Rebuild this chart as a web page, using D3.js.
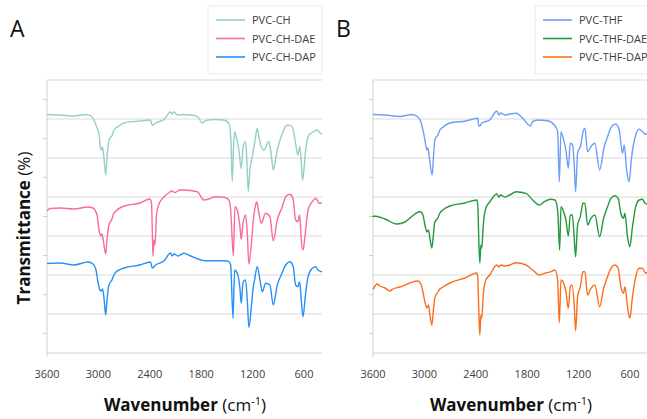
<!DOCTYPE html>
<html>
<head>
<meta charset="utf-8">
<script src="https://cdn.jsdelivr.net/npm/d3@7"></script>
<style>
  body { margin: 0; background: #fff; }
  svg { display: block; }
</style>
</head>
<body>
<div id="chart"></div>
<script>
// x ticks (wavenumber, cm-1)
const xTicks = [3600, 3000, 2400, 1800, 1200, 600];

// spectra, [wavenumber, transmittance (stacked, arbitrary units)]
const pvcCH = [[3600,238.5],[3448,238],[3285,237],[3145,238.5],[3087,237],[3052,233],[3016,225],[2993,219],[2975,205],[2964,203],[2952,206],[2935,195],[2915,178],[2900,195],[2877,213],[2838,218],[2824,222],[2798,225],[2760,227],[2700,230],[2514,232],[2392,233],[2371,227.5],[2331,230],[2235,233.5],[2157,241],[2138,239],[2118,241],[2071,238],[2001,238.5],[1923,238],[1838,236],[1788,230],[1748,232.5],[1639,233.5],[1535,233],[1476,229.5],[1453,213],[1438,171.5],[1424,203],[1410,221.5],[1389,215],[1360,203],[1333,184.5],[1310,206.5],[1282,211.5],[1267,193],[1251,161.5],[1232,183],[1204,196.5],[1177,209.5],[1146,224.5],[1130,218],[1106,208],[1068,203],[1010,211.5],[986,201],[959,183],[933,193],[912,203],[854,219.5],[796,228],[738,226.5],[718,220],[698,209.5],[671,198],[648,206.5],[630,188],[616,173],[601,183],[581,203],[543,218],[484,221.5],[446,223],[407,219.5],[390,219]];
const pvcCHDAE = [[3600,142],[3565,144.5],[3448,145],[3285,144],[3122,146],[3063,145],[3016,138],[2993,123],[2975,117],[2958,119],[2940,111],[2915,99],[2900,113],[2877,128],[2842,134],[2824,139],[2795,142],[2700,147],[2514,150],[2398,154],[2380,150],[2371,123],[2363,97],[2351,113],[2340,108],[2322,138],[2293,149],[2247,155],[2165,161],[2142,162],[2106,160.5],[2048,163],[2001,163],[1846,161.3],[1768,153],[1709,154],[1631,156.3],[1535,155.7],[1476,153],[1456,143],[1425,97],[1406,146.3],[1379,143],[1348,126.3],[1333,113.7],[1313,129],[1282,138],[1262,119.7],[1243,89],[1211,113],[1192,133],[1169,146.3],[1153,151.3],[1126,139.7],[1099,129.7],[1048,139.7],[998,136.3],[959,112.3],[912,133],[854,146.3],[814,156.3],[764,158.7],[729,154.7],[698,133],[671,131.3],[651,138],[632,113],[612,103],[585,119.7],[553,143],[503,151.3],[464,154.7],[446,153],[425,149.7],[390,150]];
const pvcCHDAP = [[3600,89.5],[3448,90],[3285,88],[3122,91],[3063,89],[3028,83],[3005,71],[2982,63],[2964,62],[2952,64],[2935,55],[2915,38],[2900,53],[2877,68],[2842,73],[2824,77],[2795,81],[2700,85],[2514,88],[2392,91],[2371,85],[2333,88],[2235,92],[2157,100],[2138,97],[2118,99],[2071,97],[2001,99.7],[1923,97],[1748,92.3],[1535,92.3],[1476,91.3],[1456,88],[1429,34.7],[1410,83],[1379,79.7],[1348,64.7],[1333,49.7],[1310,71.3],[1282,73],[1262,53],[1243,25.7],[1211,49.7],[1192,66.3],[1177,73],[1146,86.3],[1114,73],[1087,61.3],[1048,69.7],[998,68],[959,48],[912,68],[866,78],[814,88],[764,91.3],[726,86.3],[698,68],[671,66.3],[651,71.3],[632,53],[612,36.3],[585,56.3],[553,76.3],[503,84.7],[464,86.3],[437,83],[398,81.3],[390,81]];

const pvcTHF = [[3600,238.5],[3460,238],[3285,236.5],[3146,238.5],[3076,236],[3041,231],[3017,223],[2994,213],[2971,203],[2959,205],[2942,195],[2909,178],[2895,195],[2878,213],[2843,218],[2819,223],[2796,225],[2703,230],[2517,232],[2377,234.7],[2365,227],[2353,227],[2330,230],[2237,233],[2155,242],[2132,238],[2109,240],[2062,238],[2004,239],[1930,239.7],[1852,234.7],[1763,227],[1736,231.3],[1678,233],[1561,232.3],[1483,228],[1445,221.3],[1425,171.3],[1406,221.3],[1375,213],[1348,203],[1320,184.7],[1297,209.7],[1270,208],[1250,186.3],[1235,161.3],[1212,199.7],[1180,206.3],[1142,223],[1127,224.7],[1095,201.3],[1057,206.3],[1010,209.7],[955,183],[901,206.3],[862,216.3],[816,226.3],[766,229],[726,223],[688,199.7],[668,208],[637,181.3],[610,171.3],[583,194.7],[533,218],[493,223.7],[455,221.3],[428,219],[390,219]];
const pvcTHFDAE = [[3600,135.7],[3590,137],[3460,134],[3320,129],[3227,131],[3111,139],[3052,141.5],[3017,138],[2994,128],[2971,121],[2953,123],[2936,115],[2913,105],[2895,118],[2878,131],[2843,135],[2819,140],[2785,143],[2703,147],[2528,150],[2388,153],[2377,148],[2365,113],[2353,90],[2341,108],[2330,105],[2313,128],[2283,145],[2237,151],[2155,159],[2132,156],[2109,158],[2062,156],[2004,158],[1930,161.3],[1814,159.7],[1736,153],[1658,148],[1600,151.3],[1522,153.7],[1476,153],[1445,143],[1421,103],[1406,146.3],[1375,141.3],[1348,133],[1320,117],[1297,138],[1273,138],[1250,113],[1235,96.3],[1212,128],[1180,136.3],[1149,149.7],[1127,149.7],[1095,128],[1057,134.7],[1010,138],[955,116.3],[908,134.7],[862,146.3],[823,154.7],[777,157.3],[738,154.7],[707,139.7],[676,134.7],[660,139.7],[629,116.3],[602,106.3],[571,126.3],[533,146.3],[493,153],[455,153.7],[423,149.7],[390,149]];
const pvcTHFDAP = [[3600,63.7],[3577,67],[3553,69],[3518,67],[3460,65],[3402,62],[3367,64],[3285,66],[3169,70],[3076,72],[3041,69],[3017,61],[2994,51],[2971,45],[2953,48],[2936,38],[2913,28],[2895,43],[2878,55],[2843,61],[2819,64],[2785,66],[2703,70],[2528,75],[2388,80],[2377,75],[2365,43],[2353,18],[2341,38],[2330,35],[2313,58],[2283,73],[2237,78],[2155,88],[2132,86],[2109,88],[2062,87],[2004,88],[1930,90.3],[1814,88],[1736,83],[1658,78],[1600,79.7],[1522,81.3],[1476,83],[1445,73],[1425,30.3],[1406,73],[1375,69.7],[1348,61.3],[1320,44.7],[1297,66.3],[1279,68],[1250,46.3],[1235,22.3],[1212,56.3],[1180,66.3],[1149,81.3],[1127,81.3],[1095,58],[1057,64.7],[1010,68],[955,46.3],[908,64.7],[862,76.3],[823,84.7],[777,88],[738,84.7],[707,66.3],[676,59.7],[660,66.3],[629,46.3],[602,34.7],[571,56.3],[533,76.3],[493,84.7],[455,84.7],[423,80.3],[390,80]];

const seriesA = ["PVC-CH", "PVC-CH-DAE", "PVC-CH-DAP"];
const seriesB = ["PVC-THF", "PVC-THF-DAE", "PVC-THF-DAP"];
const colorsA = ["#94cfc9", "#fa6b95", "#2590f5"];
const colorsB = ["#6d9ef7", "#21993c", "#fb6e1c"];

const W = 647, H = 419;
const svg = d3.select("#chart").append("svg").attr("width", W).attr("height", H);
const font = "'Open Sans', sans-serif";

const y = d3.scaleLinear().domain([0, 273]).range([353, 80]);
const grid = d3.range(39, 274, 39);
const minor = d3.range(19.5, 273, 39);

function panel(letter, left, names, colors, data, legendX) {
  const x = d3.scaleLinear().domain([3600, 390]).range([left, left + 275]);
  const g = svg.append("g");

  // gridlines
  g.selectAll(".grid").data(grid).enter().append("line")
    .attr("x1", left).attr("x2", left + 275)
    .attr("y1", d => y(d)).attr("y2", d => y(d))
    .attr("stroke", "#d9d9d9").attr("stroke-width", 1);

  // axes lines
  g.append("line").attr("x1", left).attr("x2", left + 275).attr("y1", y(0)).attr("y2", y(0))
    .attr("stroke", "#d0d0d0");
  g.append("line").attr("x1", left).attr("x2", left).attr("y1", y(273)).attr("y2", y(0) + 4)
    .attr("stroke", "#d0d0d0");
  g.selectAll(".tk").data(minor).enter().append("line")
    .attr("x1", left - 4).attr("x2", left)
    .attr("y1", d => y(d)).attr("y2", d => y(d))
    .attr("stroke", "#d0d0d0");

  // x tick labels
  g.selectAll(".xl").data(xTicks).enter().append("text")
    .attr("x", d => x(d)).attr("y", 378)
    .attr("text-anchor", "middle")
    .style("font-family", font).style("font-size", "11px").attr("fill", "#404040")
    .text(d => d);

  const line = d3.line().x(d => x(d[0])).y(d => y(d[1])).curve(d3.curveMonotoneX);
  data.forEach((s, i) => {
    g.append("path").datum(s)
      .attr("d", line)
      .attr("fill", "none")
      .attr("stroke", colors[i])
      .attr("stroke-width", 1.4)
      .attr("stroke-linejoin", "round");
  });

  // panel letter
  svg.append("text").attr("x", left - 37).attr("y", 37)
    .style("font-family", font).style("font-size", "23px").attr("fill", "#111")
    .text(letter);

  // legend
  const lg = svg.append("g");
  lg.append("rect").attr("x", legendX).attr("y", 6).attr("width", 114).attr("height", 68)
    .attr("fill", "#fff").attr("stroke", "#ececec");
  names.forEach((n, i) => {
    const ly = 20 + i * 18.5;
    lg.append("line").attr("x1", legendX + 8).attr("x2", legendX + 37)
      .attr("y1", ly).attr("y2", ly)
      .attr("stroke", colors[i]).attr("stroke-width", 1.6);
    lg.append("text").attr("x", legendX + 44).attr("y", ly + 4)
      .style("font-family", font).style("font-size", "11px").attr("fill", "#404040")
      .text(n);
  });

  // x title
  const t = svg.append("text").attr("x", left + 138).attr("y", 411)
    .attr("text-anchor", "middle")
    .style("font-family", font).style("font-size", "17px").attr("fill", "#111");
  t.append("tspan").attr("font-weight", "bold").text("Wavenumber ");
  t.append("tspan").text("(cm");
  t.append("tspan").attr("dy", -6).style("font-size", "11px").text("-1");
  t.append("tspan").attr("dy", 6).text(")");
}

panel("A", 47, seriesA, colorsA, [pvcCH, pvcCHDAE, pvcCHDAP], 208);
panel("B", 373, seriesB, colorsB, [pvcTHF, pvcTHFDAE, pvcTHFDAP], 535);

// y title
const yt = svg.append("text")
  .attr("transform", "translate(30,228) rotate(-90)")
  .attr("text-anchor", "middle")
  .style("font-family", font).style("font-size", "17px").attr("fill", "#111");
yt.append("tspan").attr("font-weight", "bold").text("Transmittance ");
yt.append("tspan").text("(%)");
</script>
</body>
</html>
